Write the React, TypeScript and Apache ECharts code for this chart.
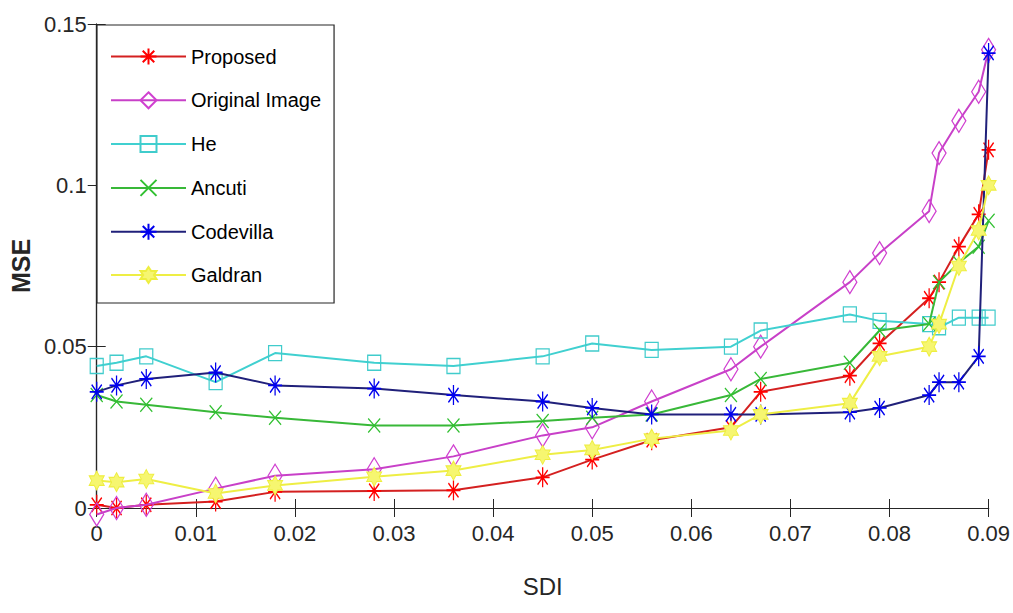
import React, { useEffect, useRef } from "react";
import * as echarts from "echarts";

const sdi = [0, 0.002, 0.005, 0.012, 0.018, 0.028, 0.036, 0.045, 0.05, 0.056, 0.064, 0.067, 0.076, 0.079, 0.084, 0.085, 0.087, 0.089, 0.09];
const proposed = [0.001, 0.0, 0.001, 0.002, 0.005, 0.0053, 0.0055, 0.0095, 0.015, 0.021, 0.025, 0.036, 0.041, 0.051, 0.065, 0.07, 0.081, 0.091, 0.111];
const originalImage = [-0.002, 0.0, 0.001, 0.006, 0.01, 0.012, 0.016, 0.0225, 0.025, 0.033, 0.043, 0.05, 0.07, 0.079, 0.092, 0.11, 0.12, 0.129, 0.142];
const he = [0.044, 0.045, 0.047, 0.039, 0.048, 0.045, 0.044, 0.047, 0.051, 0.049, 0.05, 0.055, 0.06, 0.058, 0.057, 0.056, 0.059, 0.059, 0.059];
const ancuti = [0.035, 0.033, 0.032, 0.0297, 0.028, 0.0256, 0.0256, 0.027, 0.028, 0.029, 0.035, 0.04, 0.045, 0.055, 0.057, 0.07, 0.076, 0.081, 0.089];
const codevilla = [0.036, 0.038, 0.04, 0.042, 0.038, 0.037, 0.035, 0.033, 0.031, 0.029, 0.029, 0.029, 0.0297, 0.031, 0.035, 0.039, 0.039, 0.047, 0.141];
const galdran = [0.0085, 0.008, 0.009, 0.0045, 0.007, 0.0097, 0.0116, 0.0165, 0.018, 0.0215, 0.024, 0.029, 0.0325, 0.047, 0.05, 0.057, 0.075, 0.086, 0.1];

const seriesNames = ["Proposed", "Original Image", "He", "Ancuti", "Codevilla", "Galdran"];
const xTickLabels = ["0", "0.01", "0.02", "0.03", "0.04", "0.05", "0.06", "0.07", "0.08", "0.09"];
const yTickLabels = ["0", "0.05", "0.1", "0.15"];

const ASTERISK = "path://M0,-1L0,1M-1,0L1,0M-0.72,-0.72L0.72,0.72M-0.72,0.72L0.72,-0.72";
const CROSS = "path://M-1,-1L1,1M-1,1L1,-1";
const HEXAGRAM = "path://M0,-1L0.29,-0.5L0.87,-0.5L0.58,0L0.87,0.5L0.29,0.5L0,1L-0.29,0.5L-0.87,0.5L-0.58,0L-0.87,-0.5L-0.29,-0.5Z";

const FONT = "'Liberation Sans', Arial, Helvetica, sans-serif";

export default function App() {
  const ref = useRef<HTMLDivElement>(null);
  useEffect(() => {
    if (!ref.current) return;
    const chart = echarts.init(ref.current, undefined, { renderer: "svg" });
    const values = [proposed, originalImage, he, ancuti, codevilla, galdran];
    const styles = [
      { line: "#d42020", sym: ASTERISK, size: [14, 20], fill: "none", border: "#ff0000", bw: 1.5 },
      { line: "#c840c8", sym: "diamond", size: [14, 23], fill: "none", border: "#d040d0", bw: 1.3 },
      { line: "#40d0d0", sym: "rect", size: [13, 15], fill: "none", border: "#40cccc", bw: 1.3 },
      { line: "#38b838", sym: CROSS, size: [12, 14], fill: "none", border: "#30c030", bw: 1.3 },
      { line: "#20207a", sym: ASTERISK, size: [14, 20], fill: "none", border: "#0000ee", bw: 1.5 },
      { line: "#eeee44", sym: HEXAGRAM, size: [15, 19], fill: "#f6f670", border: "#eeee40", bw: 1 },
    ];
    const series = values.map((vals, i) => ({
      name: seriesNames[i],
      type: "line",
      data: sdi.map((x, j) => [x, vals[j]]),
      symbol: styles[i].sym,
      symbolSize: styles[i].size,
      showAllSymbol: true,
      clip: false,
      lineStyle: { color: styles[i].line, width: 2 },
      itemStyle: { color: styles[i].fill, borderColor: styles[i].border, borderWidth: styles[i].bw },
      emphasis: { disabled: true },
      z: 2 + i,
    }));
    const axisLine = { show: true, lineStyle: { color: "#262626", width: 1.2 } };
    const axisTick = { show: true, inside: true, length: 9, lineStyle: { color: "#262626", width: 1 } };
    chart.setOption({
      animation: false,
      backgroundColor: "#ffffff",
      grid: { left: 95, right: 23, top: 24, bottom: 105, containLabel: false },
      legend: {
        show: true,
        orient: "vertical",
        left: 97,
        top: 25,
        data: seriesNames,
        itemWidth: 75,
        itemHeight: 20,
        itemGap: 22.8,
        padding: [21, 13, 18, 13],
        backgroundColor: "#ffffff",
        borderColor: "#262626",
        borderWidth: 1.2,
        borderRadius: 0,
        textStyle: { fontFamily: FONT, fontSize: 20, color: "#000000", lineHeight: 20 },
        selectedMode: false,
      },
      xAxis: [
        {
          type: "value",
          min: 0,
          max: 0.09,
          interval: 0.01,
          position: "bottom",
          axisLine,
          axisTick,
          splitLine: { show: false },
          axisLabel: {
            show: true,
            margin: 14,
            color: "#262626",
            fontFamily: FONT,
            fontSize: 22,
            formatter: (v: number) => xTickLabels[Math.round(v / 0.01)] ?? "",
          },
          name: "SDI",
          nameLocation: "middle",
          nameGap: 66,
          nameTextStyle: { fontFamily: FONT, fontSize: 24, color: "#262626" },
        },
        {
          type: "value",
          min: 0,
          max: 0.09,
          interval: 0.01,
          position: "top",
          axisLine,
          axisTick,
          splitLine: { show: false },
          axisLabel: { show: false },
        },
      ],
      yAxis: [
        {
          type: "value",
          min: 0,
          max: 0.15,
          interval: 0.05,
          position: "left",
          axisLine,
          axisTick,
          splitLine: { show: false },
          axisLabel: {
            show: true,
            margin: 10,
            color: "#262626",
            fontFamily: FONT,
            fontSize: 22,
            formatter: (v: number) => yTickLabels[Math.round(v / 0.05)] ?? "",
          },
          name: "MSE",
          nameLocation: "middle",
          nameGap: 60,
          nameRotate: 90,
          nameTextStyle: { fontFamily: FONT, fontSize: 25, color: "#262626", fontWeight: "bold" },
        },
        {
          type: "value",
          min: 0,
          max: 0.15,
          interval: 0.05,
          position: "right",
          axisLine,
          axisTick,
          splitLine: { show: false },
          axisLabel: { show: false },
        },
      ],
      series,
    });
    return () => chart.dispose();
  }, []);
  return <div ref={ref} style={{ width: 1013, height: 613, position: "absolute", left: 0, top: 0 }} />;
}
